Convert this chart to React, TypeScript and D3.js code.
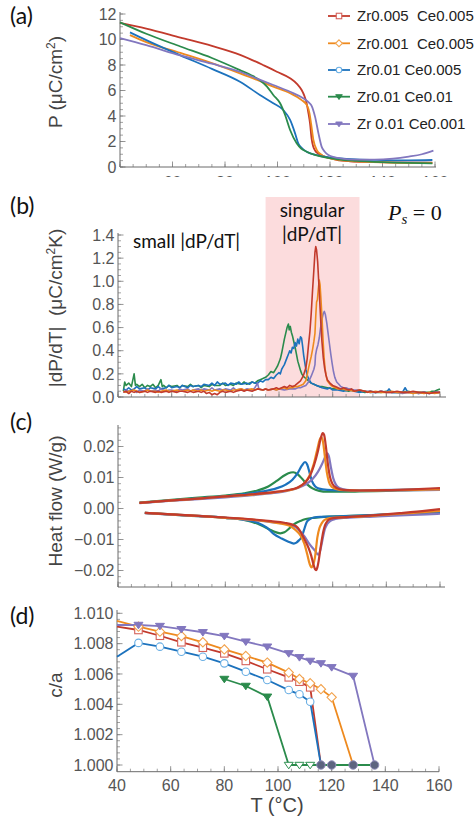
import React from "react";
import * as d3 from "d3";

type Pt = [number, number];

const seriesNames = ["Zr0.005  Ce0.005", "Zr0.001  Ce0.005", "Zr0.01 Ce0.005", "Zr0.01 Ce0.01", "Zr 0.01 Ce0.001"];
const colors = ["#C23A2C", "#EE8A1F", "#1C72BD", "#2B8B4C", "#8277BF"];
const markerStrokes = ["#D4625A", "#F2A24C", "#6AAFE4", "#2F8F50", "#6C64B4"];
const markerShapes = ["square", "diamond", "circle", "tri", "tri"];
const markerFilled = [false, false, false, true, true];

// ---------- (a) Polarization P (µC/cm²) vs T ----------
const aRed: Pt[] = [[40,11.3],[50,10.85],[63,10.15],[75,9.5],[86,8.78],[95,7.95],[100,7.45],[104.8,6.96],[107.5,6.5],[109.2,6.04],[110.2,5.6],[111.1,5.0],[111.8,4.2],[112.4,3.4],[113,2.2],[113.6,1.6],[114.3,1.3],[115.5,1.05],[116.8,0.92],[119,0.75],[122.5,0.56],[127.6,0.45],[135,0.4],[145,0.36],[159,0.35]];
const aOrange: Pt[] = [[43.8,10.35],[50,9.8],[63,8.95],[75,8.15],[85.7,7.35],[92,6.85],[98.4,6.3],[104.8,5.78],[109.2,5.25],[111.2,4.85],[112.2,4.2],[112.8,3.4],[113.7,2.1],[115,1.33],[116.5,1.0],[118,0.8],[123.8,0.55],[130,0.45],[140,0.36],[150,0.31],[159,0.3]];
const aBlue: Pt[] = [[43.8,10.56],[50,9.95],[63,8.76],[75,7.7],[85.7,6.69],[93.3,5.65],[98.4,5.0],[102.2,4.47],[104.8,3.69],[106.7,2.64],[107.9,1.86],[109.5,1.45],[111.1,1.2],[116,0.88],[123,0.7],[130,0.6],[140,0.55],[150,0.52],[159,0.55]];
const aGreen: Pt[] = [[40,11.35],[50,10.45],[63,9.45],[75,8.55],[85.7,7.6],[90,7.2],[93.3,6.8],[96,6.3],[98.4,5.65],[101,5.0],[102.9,4.08],[104.8,2.9],[107.3,1.86],[109,1.45],[111.1,1.2],[116,0.85],[123,0.6],[130,0.48],[140,0.38],[150,0.32],[159,0.29]];
const aPurple: Pt[] = [[40,10.1],[50,9.55],[63,8.75],[75,8.1],[85.7,7.47],[92,6.95],[98.4,6.43],[104.8,5.9],[109.8,5.39],[112,5.05],[113,4.8],[114.3,3.95],[115.6,2.64],[116.8,1.6],[118,1.2],[119.4,0.94],[123.8,0.68],[130,0.58],[137,0.58],[144,0.66],[150,0.82],[155,1.0],[159.4,1.28]];
const aSeries = [aRed, aOrange, aBlue, aGreen, aPurple];
const aYTicks = [0, 2, 4, 6, 8, 10, 12];
const xTicks = [40, 60, 80, 100, 120, 140, 160];

// ---------- (b) |dP/dT| ----------
const bRed: Pt[] = [[42,0.04],[43,0.05],[44,0.03],[45,0.05],[46,0.04],[47,0.05],[48,0.04],[50,0.05],[51,0.04],[52,0.05],[54,0.04],[55,0.05],[56,0.04],[58,0.05],[59,0.04],[60,0.05],[62,0.04],[63,0.05],[64,0.05],[66,0.04],[67,0.05],[68,0.04],[70,0.05],[71,0.04],[72,0.05],[73,0.03],[74,0.04],[75,0.02],[76,0.03],[77,0.02],[78,0.04],[79,0.05],[80,0.04],[82,0.05],[83,0.04],[84,0.05],[86,0.06],[87,0.05],[88,0.06],[90,0.05],[91,0.06],[92,0.07],[94,0.06],[95,0.07],[96,0.06],[98,0.07],[99,0.08],[100,0.07],[101,0.08],[102,0.09],[103,0.08],[104,0.1],[105,0.09],[106,0.1],[107,0.12],[108,0.14],[109,0.18],[110,0.25],[110.5,0.33],[111,0.45],[111.5,0.56],[112,0.72],[112.5,0.92],[113,1.1],[113.4,1.25],[113.7,1.3],[114,1.27],[114.4,1.17],[114.8,1.0],[115.2,0.82],[115.6,0.64],[116,0.48],[116.5,0.34],[117,0.25],[117.5,0.19],[118,0.15],[119,0.12],[120,0.1],[121,0.09],[122,0.08],[123,0.07],[124,0.08],[126,0.06],[127,0.07],[128,0.05],[130,0.06],[132,0.05],[133,0.04],[134,0.05],[136,0.04],[138,0.05],[140,0.04],[142,0.04],[144,0.05],[146,0.04],[148,0.04],[150,0.05],[152,0.04],[154,0.04],[156,0.03],[158,0.04],[160,0.04]];
const bOrange: Pt[] = [[42,0.05],[43,0.04],[44,0.05],[46,0.06],[47,0.05],[48,0.04],[50,0.05],[51,0.06],[52,0.05],[54,0.05],[55,0.04],[56,0.05],[58,0.06],[59,0.05],[60,0.05],[62,0.06],[63,0.05],[64,0.05],[66,0.06],[67,0.05],[68,0.06],[70,0.05],[71,0.06],[72,0.05],[74,0.06],[75,0.05],[76,0.06],[78,0.05],[79,0.06],[80,0.06],[82,0.05],[83,0.06],[84,0.06],[86,0.07],[87,0.06],[88,0.06],[90,0.07],[91,0.06],[92,0.07],[94,0.06],[95,0.07],[96,0.06],[98,0.07],[99,0.06],[100,0.07],[102,0.08],[103,0.07],[104,0.08],[105,0.08],[106,0.09],[107,0.09],[108,0.1],[109,0.11],[110,0.14],[110.5,0.19],[111,0.25],[111.5,0.3],[112,0.35],[112.5,0.41],[113,0.48],[113.4,0.55],[113.7,0.7],[114,0.82],[114.3,0.84],[114.6,0.92],[115,1.01],[115.3,0.97],[115.6,0.86],[116,0.7],[116.4,0.5],[116.8,0.34],[117.2,0.24],[117.6,0.18],[118,0.14],[119,0.11],[120,0.09],[121,0.08],[122,0.07],[124,0.07],[125,0.06],[126,0.06],[128,0.05],[130,0.06],[132,0.05],[134,0.04],[136,0.05],[138,0.04],[140,0.04],[142,0.05],[144,0.04],[146,0.04],[148,0.04],[150,0.03],[152,0.04],[154,0.03],[156,0.04],[158,0.03],[160,0.04]];
const bBlue: Pt[] = [[42,0.07],[43,0.06],[44,0.08],[45,0.06],[46,0.07],[47,0.09],[48,0.07],[50,0.08],[51,0.06],[52,0.08],[54,0.07],[55,0.09],[56,0.07],[58,0.08],[59,0.1],[60,0.08],[62,0.09],[63,0.08],[64,0.1],[66,0.08],[67,0.1],[68,0.09],[70,0.1],[71,0.09],[72,0.11],[74,0.1],[75,0.12],[76,0.1],[77,0.13],[78,0.11],[80,0.12],[81,0.1],[82,0.12],[84,0.11],[85,0.13],[86,0.11],[88,0.12],[89,0.11],[90,0.13],[91,0.12],[92,0.12],[93,0.14],[94,0.13],[95,0.15],[96,0.15],[97,0.17],[98,0.16],[99,0.19],[100,0.21],[100.5,0.2],[101,0.24],[101.5,0.26],[102,0.28],[102.5,0.31],[103,0.34],[103.5,0.37],[104,0.4],[104.5,0.38],[105,0.43],[105.5,0.42],[106,0.47],[106.5,0.44],[107,0.5],[107.5,0.46],[108,0.52],[108.4,0.51],[108.8,0.44],[109.2,0.36],[109.6,0.3],[110,0.24],[110.5,0.19],[111,0.16],[111.5,0.14],[112,0.12],[113,0.11],[114,0.1],[115,0.09],[116,0.08],[118,0.07],[119,0.08],[120,0.06],[122,0.06],[124,0.05],[126,0.06],[128,0.05],[130,0.04],[132,0.05],[134,0.04],[136,0.04],[138,0.05],[140,0.04],[141,0.07],[142,0.04],[144,0.04],[146,0.04],[147,0.08],[148,0.04],[150,0.04],[152,0.03],[154,0.04],[156,0.03],[158,0.04],[160,0.04]];
const bGreen: Pt[] = [[42,0.05],[42.5,0.13],[43,0.1],[44,0.12],[45,0.09],[46,0.2],[46.5,0.1],[47,0.11],[48,0.09],[49,0.11],[50,0.08],[51,0.1],[52,0.09],[53,0.11],[54,0.08],[55,0.1],[56,0.15],[56.5,0.09],[57,0.1],[58,0.08],[59,0.1],[60,0.09],[62,0.1],[63,0.08],[64,0.1],[66,0.09],[67,0.11],[68,0.09],[70,0.1],[71,0.08],[72,0.1],[74,0.09],[75,0.11],[76,0.1],[78,0.1],[79,0.12],[80,0.1],[82,0.11],[83,0.1],[84,0.12],[86,0.11],[87,0.13],[88,0.11],[90,0.13],[91,0.12],[92,0.14],[93,0.15],[94,0.16],[95,0.17],[96,0.19],[97,0.22],[98,0.21],[99,0.25],[99.5,0.27],[100,0.3],[100.5,0.33],[101,0.38],[101.5,0.44],[102,0.5],[102.5,0.55],[103,0.6],[103.5,0.63],[103.8,0.58],[104.2,0.61],[104.6,0.56],[105,0.53],[105.5,0.48],[106,0.43],[106.5,0.37],[107,0.31],[107.5,0.27],[108,0.23],[108.5,0.2],[109,0.18],[110,0.16],[111,0.14],[112,0.12],[113,0.11],[114,0.1],[115,0.09],[116,0.09],[118,0.08],[120,0.07],[122,0.07],[124,0.06],[126,0.05],[127,0.06],[128,0.05],[130,0.05],[132,0.04],[134,0.05],[136,0.04],[138,0.04],[140,0.05],[142,0.04],[144,0.04],[146,0.04],[148,0.05],[150,0.04],[152,0.04],[154,0.04],[156,0.04],[157,0.05],[158,0.05],[159,0.06],[160,0.07]];
const bPurple: Pt[] = [[42,0.04],[43,0.06],[44,0.05],[46,0.06],[47,0.04],[48,0.06],[50,0.05],[51,0.07],[52,0.05],[54,0.06],[55,0.05],[56,0.07],[58,0.05],[59,0.06],[60,0.06],[62,0.05],[63,0.07],[64,0.06],[66,0.07],[67,0.05],[68,0.06],[70,0.07],[71,0.06],[72,0.07],[74,0.06],[75,0.08],[76,0.06],[78,0.07],[79,0.06],[80,0.07],[82,0.06],[83,0.08],[84,0.06],[86,0.07],[87,0.06],[88,0.07],[90,0.06],[91,0.08],[92,0.12],[92.5,0.07],[94,0.06],[95,0.07],[96,0.06],[98,0.07],[99,0.06],[100,0.07],[102,0.06],[104,0.07],[106,0.07],[107,0.08],[108,0.08],[109,0.09],[110,0.1],[111,0.13],[112,0.18],[112.5,0.21],[113,0.24],[113.4,0.28],[113.6,0.36],[114,0.41],[114.5,0.45],[115,0.51],[115.5,0.6],[116,0.67],[116.5,0.72],[116.9,0.74],[117.3,0.71],[117.8,0.64],[118.3,0.55],[118.8,0.46],[119.3,0.37],[119.8,0.29],[120.3,0.22],[120.8,0.17],[121.5,0.13],[122.3,0.11],[123,0.09],[124,0.08],[125,0.08],[126,0.07],[128,0.06],[130,0.06],[132,0.05],[134,0.05],[136,0.04],[138,0.05],[140,0.04],[142,0.04],[144,0.04],[146,0.03],[148,0.04],[150,0.04],[152,0.03],[154,0.04],[156,0.03],[158,0.04],[160,0.04]];
const bSeries = [bRed, bOrange, bBlue, bGreen, bPurple];
const bYTicks = [0, 0.2, 0.4, 0.6, 0.8, 1.0, 1.2, 1.4];
const singularRange = [95, 130];

// ---------- (c) Heat flow (W/g): heating (up) and cooling (down) ----------
const cRedUp: Pt[] = [[48,0.0018],[60,0.0026],[70,0.0032],[80,0.0039],[90,0.0046],[98,0.0053],[103,0.0059],[107,0.0068],[109.5,0.0082],[111.5,0.0105],[113,0.0138],[114.5,0.0185],[115.6,0.0228],[116.3,0.0243],[116.8,0.0238],[117.4,0.0205],[118.2,0.0145],[119,0.0102],[120,0.0078],[121.5,0.0066],[124,0.006],[130,0.0058],[140,0.0059],[150,0.0062],[160,0.0066]];
const cOrangeUp: Pt[] = [[48,0.0018],[60,0.0026],[70,0.0032],[80,0.0039],[90,0.0045],[98,0.0052],[103,0.0058],[107,0.0067],[109.5,0.0082],[111.5,0.0108],[113,0.0145],[114.3,0.0192],[115.2,0.0223],[115.8,0.023],[116.4,0.0215],[117,0.0175],[117.8,0.0118],[118.6,0.0086],[119.6,0.007],[121.5,0.0062],[124,0.0059],[130,0.0058],[140,0.0059],[150,0.006],[160,0.0062]];
const cBlueUp: Pt[] = [[48,0.0018],[60,0.0026],[70,0.0033],[80,0.004],[88,0.0047],[94,0.0055],[99,0.0065],[102.5,0.0077],[105,0.0093],[107,0.0115],[108.5,0.0138],[109.7,0.015],[110.5,0.0142],[111.4,0.0115],[112.3,0.0088],[113.5,0.0071],[115,0.0064],[118,0.006],[125,0.0058],[135,0.0059],[145,0.006],[160,0.0063]];
const cGreenUp: Pt[] = [[48,0.0019],[60,0.0028],[70,0.0035],[80,0.0042],[87,0.0049],[92,0.0058],[96,0.0071],[99,0.0088],[101.5,0.0104],[103.5,0.0114],[105.3,0.0117],[107,0.011],[108.7,0.0095],[110.5,0.0078],[112.5,0.0065],[115,0.0057],[118,0.0054],[122,0.0054],[130,0.0055],[140,0.0057],[150,0.0059],[160,0.0061]];
const cPurpleUp: Pt[] = [[48,0.0017],[60,0.0025],[70,0.003],[80,0.0036],[90,0.0043],[98,0.005],[103,0.0057],[107,0.0066],[110,0.0078],[112.5,0.0095],[114.5,0.0118],[116,0.0143],[117.3,0.0168],[118,0.0178],[118.6,0.0168],[119.3,0.0135],[120.2,0.0098],[121.2,0.0077],[122.5,0.0066],[125,0.006],[130,0.0058],[140,0.0058],[150,0.0059],[160,0.006]];
const cRedDown: Pt[] = [[50,-0.0014],[60,-0.0019],[70,-0.0024],[80,-0.0029],[90,-0.0035],[97,-0.0041],[102,-0.0046],[105,-0.0052],[107,-0.0062],[108.5,-0.0082],[110,-0.0108],[111,-0.0127],[112,-0.0152],[112.8,-0.0179],[113.4,-0.0195],[113.8,-0.0199],[114.3,-0.019],[114.8,-0.0168],[115.4,-0.0132],[115.9,-0.0104],[116.5,-0.0075],[117.1,-0.0055],[118,-0.0041],[119,-0.0034],[121,-0.003],[125,-0.0028],[135,-0.0022],[145,-0.0015],[155,-0.0007],[160,-0.0002]];
const cOrangeDown: Pt[] = [[50,-0.0014],[60,-0.0019],[70,-0.0024],[80,-0.003],[90,-0.0036],[97,-0.0043],[101,-0.0049],[104,-0.0056],[106,-0.0068],[108,-0.0087],[109.5,-0.0115],[110.5,-0.0147],[111.4,-0.0178],[112.1,-0.019],[112.7,-0.0182],[113.4,-0.0158],[114.3,-0.0093],[115.1,-0.0062],[115.9,-0.0048],[117,-0.0037],[119,-0.0031],[122,-0.0029],[130,-0.0026],[140,-0.002],[150,-0.0014],[160,-0.0008]];
const cBlueDown: Pt[] = [[50,-0.0014],[60,-0.0019],[70,-0.0024],[80,-0.003],[87,-0.0036],[92,-0.0046],[95.5,-0.0062],[98,-0.0082],[101,-0.0097],[103.5,-0.0107],[105.5,-0.0113],[106.5,-0.011],[107.5,-0.0102],[108.4,-0.0093],[109.3,-0.007],[110.3,-0.0044],[111.5,-0.0034],[113,-0.0029],[116,-0.0027],[120,-0.0026],[130,-0.0023],[140,-0.0019],[150,-0.0015],[160,-0.0011]];
const cGreenDown: Pt[] = [[50,-0.0014],[60,-0.002],[70,-0.0025],[80,-0.003],[86,-0.0035],[90,-0.0043],[93.5,-0.0055],[96.5,-0.0068],[99,-0.0077],[100.5,-0.008],[102,-0.0077],[103.5,-0.0067],[105,-0.0055],[106.5,-0.0046],[108,-0.004],[110,-0.0034],[113,-0.003],[117,-0.0027],[122,-0.0025],[130,-0.0023],[140,-0.002],[150,-0.0016],[160,-0.0012]];
const cPurpleDown: Pt[] = [[50,-0.0015],[60,-0.002],[70,-0.0025],[80,-0.003],[90,-0.0037],[97,-0.0044],[104,-0.0052],[106.5,-0.0062],[108,-0.0075],[109.5,-0.009],[110.9,-0.0109],[112.3,-0.0125],[113.4,-0.0136],[114.6,-0.0149],[115.3,-0.0138],[115.9,-0.0114],[116.5,-0.0088],[117.1,-0.0066],[118,-0.005],[119,-0.0041],[121,-0.0034],[125,-0.003],[135,-0.0026],[145,-0.0022],[155,-0.0019],[160,-0.0017]];
const cUp = [cRedUp, cOrangeUp, cBlueUp, cGreenUp, cPurpleUp];
const cDown = [cRedDown, cOrangeDown, cBlueDown, cGreenDown, cPurpleDown];
const cYTicks = [-0.02, -0.01, 0, 0.01, 0.02];

// ---------- (d) c/a ----------
const dRed: Pt[] = [[40,1.00912],[48,1.0089],[56,1.00852],[64,1.00809],[72,1.00773],[80,1.00736],[88,1.00686],[96,1.00631],[104,1.00578],[108,1.00549],[112,1.00512],[116,1.0]];
const dOrange: Pt[] = [[40,1.0095],[48,1.00912],[56,1.00879],[64,1.0085],[72,1.00809],[80,1.00762],[88,1.00719],[96,1.00675],[104,1.00609],[108,1.00567],[112,1.00539],[116,1.005],[120,1.00446],[128,1.0]];
const dBlue: Pt[] = [[40,1.00714],[48,1.00805],[56,1.0078],[64,1.00747],[72,1.00714],[80,1.0067],[88,1.00615],[96,1.0056],[104,1.00494],[108,1.00466],[112,1.00417],[116,1.0]];
const dGreen: Pt[] = [[80,1.00567],[88,1.00521],[96,1.0045],[104,1.0],[108,1.0],[112,1.0],[116,1.0],[120,1.0],[128,1.0],[136,1.0]];
const dPurple: Pt[] = [[40,1.00923],[48,1.00923],[56,1.00916],[64,1.00895],[72,1.00875],[80,1.0085],[88,1.00813],[96,1.0078],[104,1.00736],[108,1.0071],[112,1.00686],[116,1.0067],[120,1.00644],[128,1.00587],[136,1.0]];
const dSeries = [dRed, dOrange, dBlue, dGreen, dPurple];
const cubicT = [116, 120, 128, 136];
const dYTicks = [1.0, 1.002, 1.004, 1.006, 1.008, 1.01];

const AXIS = "#6b6b6b";
const TICK = "#8a8a8a";
const LABEL = "#555";
const TICKFONT = "Liberation Sans, Arial, sans-serif";
const TEXTFONT = "Lato, 'Open Sans', sans-serif";

function minors(a: number, b: number, step: number) {
  return d3.range(Math.round(a / step), Math.round(b / step) + 1).map((k) => k * step);
}

function Axes(p: {
  x: d3.ScaleLinear<number, number>;
  y: d3.ScaleLinear<number, number>;
  x0: number; x1: number; xAxisY: number; yTop: number;
  xMajor: number[]; xMinorStep: number; xMinMax: [number, number];
  yMajor: number[]; yMinorStep: number; yMinMax: [number, number];
  yFmt: (v: number) => string;
  xLabels?: boolean; xLabelY?: number; clipId?: string;
}) {
  const { x, y, x0, x1, xAxisY, yTop } = p;
  const xm = minors(p.xMinMax[0], p.xMinMax[1], p.xMinorStep).filter((t) => x(t) >= x0 - 0.5 && x(t) <= x1 + 0.5);
  const ym = minors(p.yMinMax[0], p.yMinMax[1], p.yMinorStep).filter((t) => y(t) >= yTop - 0.5 && y(t) <= xAxisY + 0.5);
  return (
    <g>
      {xm.map((t, i) => (
        <line key={"xm" + i} x1={x(t)} x2={x(t)} y1={xAxisY} y2={xAxisY - 3} stroke={TICK} strokeWidth={0.8} />
      ))}
      {p.xMajor.map((t, i) => (
        <line key={"xM" + i} x1={x(t)} x2={x(t)} y1={xAxisY} y2={xAxisY - 5.5} stroke={TICK} strokeWidth={0.9} />
      ))}
      {ym.map((t, i) => (
        <line key={"ym" + i} x1={x0} x2={x0 + 3} y1={y(t)} y2={y(t)} stroke={TICK} strokeWidth={0.8} />
      ))}
      {p.yMajor.map((t, i) => (
        <line key={"yM" + i} x1={x0} x2={x0 + 5.5} y1={y(t)} y2={y(t)} stroke={TICK} strokeWidth={0.9} />
      ))}
      <line x1={x0} x2={x1} y1={xAxisY} y2={xAxisY} stroke={AXIS} strokeWidth={1} />
      <line x1={x0} x2={x0} y1={yTop} y2={xAxisY} stroke={AXIS} strokeWidth={1} />
      {p.yMajor.map((t, i) => (
        <text key={"yl" + i} x={x0 - 3.5} y={y(t)} dy="0.36em" textAnchor="end" fontSize={16} fill={LABEL} fontFamily={TICKFONT}>
          {p.yFmt(t)}
        </text>
      ))}
      {p.xLabels && (
        <g clipPath={p.clipId ? `url(#${p.clipId})` : undefined}>
          {p.xMajor.filter((t) => t > 40 || !p.clipId).map((t, i) => (
            <text key={"xl" + i} x={x(t)} y={p.xLabelY} textAnchor="middle" fontSize={16} fill={LABEL} fontFamily={TICKFONT}>
              {t}
            </text>
          ))}
        </g>
      )}
    </g>
  );
}

function Marker({ shape, filled, color, stroke, cx, cy, s }: { shape: string; filled: boolean; color: string; stroke: string; cx: number; cy: number; s: number }) {
  const fill = filled ? color : "white";
  const st = filled ? color : stroke;
  if (shape === "square")
    return <rect x={cx - s / 2} y={cy - s / 2} width={s} height={s} fill={fill} stroke={st} strokeWidth={1.1} />;
  if (shape === "diamond") {
    const r = s * 0.62;
    return <path d={`M${cx},${cy - r}L${cx + r},${cy}L${cx},${cy + r}L${cx - r},${cy}Z`} fill={fill} stroke={st} strokeWidth={1.1} />;
  }
  if (shape === "circle") return <circle cx={cx} cy={cy} r={s / 2} fill={fill} stroke={st} strokeWidth={1.1} />;
  const r = s * 0.6;
  return <path d={`M${cx - r},${cy - r * 0.6}L${cx + r},${cy - r * 0.6}L${cx},${cy + r * 0.85}Z`} fill={fill} stroke={st} strokeWidth={1} />;
}

export default function App() {
  // scales
  const xA = d3.scaleLinear().domain([40, 160]).range([120, 435]);
  const yA = d3.scaleLinear().domain([0, 12]).range([167, 14]);
  const xB = d3.scaleLinear().domain([40, 160]).range([118, 440]);
  const yB = d3.scaleLinear().domain([0, 1.4]).range([397, 235]);
  const xC = d3.scaleLinear().domain([40, 160]).range([118, 440]);
  const yC = d3.scaleLinear().domain([-0.02, 0.02]).range([570.5, 446.5]);
  const xD = d3.scaleLinear().domain([40, 160]).range([117, 439]);
  const yD = d3.scaleLinear().domain([1.0, 1.01]).range([765, 613.3]);

  const lineA = d3.line<Pt>().x((d) => xA(d[0])).y((d) => yA(d[1])).curve(d3.curveMonotoneX);
  const lineB = d3.line<Pt>().x((d) => xB(d[0])).y((d) => yB(d[1]));
  const lineC = d3.line<Pt>().x((d) => xC(d[0])).y((d) => yC(d[1])).curve(d3.curveMonotoneX);
  const lineD = d3.line<Pt>().x((d) => xD(d[0])).y((d) => yD(d[1]));

  const legendY = [16, 43.3, 70, 96.7, 124];
  const bOrder = [3, 2, 4, 1, 0];
  const cOrder = [3, 2, 4, 1, 0];
  const dOrder = [0, 2, 1, 4, 3];

  return (
    <svg width={476} height={820} style={{ position: "absolute", left: 0, top: 0, background: "white" }}>
      <defs>
        <clipPath id="clipAx">
          <rect x={100} y={168} width={360} height={9} />
        </clipPath>
      </defs>
      <rect x={0} y={0} width={476} height={820} fill="white" />

      {/* ---------- panel (a) ---------- */}
      <text x={10} y={24} fontSize={23} fontFamily={TEXTFONT} fill="#111">(a)</text>
      <Axes x={xA} y={yA} x0={120} x1={436} xAxisY={167} yTop={12}
        xMajor={xTicks} xMinorStep={5} xMinMax={[40, 160]}
        yMajor={aYTicks} yMinorStep={0.5} yMinMax={[0, 12]}
        yFmt={(v) => String(v)} xLabels xLabelY={188} clipId="clipAx" />
      {aSeries.map((s, i) => (
        <path key={"a" + i} d={lineA(s) || ""} fill="none" stroke={colors[i]} strokeWidth={1.8} />
      ))}
      <text transform="translate(62,82) rotate(-90)" textAnchor="middle" fontSize={19} fill="#444" fontFamily={TICKFONT}>
        P (μC/cm<tspan dy={-7} fontSize={12}>2</tspan><tspan dy={7}>)</tspan>
      </text>
      {seriesNames.map((n, i) => (
        <g key={"lg" + i}>
          <line x1={328} x2={350} y1={legendY[i]} y2={legendY[i]} stroke={colors[i]} strokeWidth={1.8} />
          <Marker shape={markerShapes[i]} filled={markerFilled[i]} color={colors[i]} stroke={markerStrokes[i]} cx={339} cy={legendY[i]} s={5.5} />
          <text x={357} y={legendY[i] + 5.3} fontSize={15} fill="#222" fontFamily={TICKFONT} style={{ whiteSpace: "pre" }}>{n}</text>
        </g>
      ))}

      {/* ---------- panel (b) ---------- */}
      <rect x={xB(singularRange[0])} y={197} width={xB(singularRange[1]) - xB(singularRange[0])} height={397 - 197} fill="#FCDCDD" />
      <text x={10} y={214} fontSize={23} fontFamily={TEXTFONT} fill="#111">(b)</text>
      <Axes x={xB} y={yB} x0={118} x1={446} xAxisY={397} yTop={233}
        xMajor={xTicks} xMinorStep={5} xMinMax={[40, 160]}
        yMajor={bYTicks} yMinorStep={0.05} yMinMax={[0, 1.4]}
        yFmt={(v) => v.toFixed(1)} />
      {bOrder.map((i) => (
        <path key={"b" + i} d={lineB(bSeries[i]) || ""} fill="none" stroke={colors[i]} strokeWidth={1.6} strokeLinejoin="round" />
      ))}
      <text x={133} y={248} fontSize={19} fontFamily={TEXTFONT} fill="#111">small |dP/dT|</text>
      <text x={312} y={217} fontSize={19} fontFamily={TEXTFONT} fill="#111" textAnchor="middle">singular</text>
      <text x={312} y={241} fontSize={19} fontFamily={TEXTFONT} fill="#111" textAnchor="middle">|dP/dT|</text>
      <text x={388} y={220} fontSize={22} fontFamily="'Liberation Serif', serif" fill="#111">
        <tspan fontStyle="italic">P</tspan>
        <tspan fontStyle="italic" fontSize={15} dy={4}>s</tspan>
        <tspan dy={-4}> = 0</tspan>
      </text>
      <text transform="translate(62,308) rotate(-90)" textAnchor="middle" fontSize={19} fill="#444" fontFamily={TICKFONT} style={{ whiteSpace: "pre" }}>
        |dP/dT|  (μC/cm<tspan dy={-7} fontSize={12}>2</tspan><tspan dy={7}>K)</tspan>
      </text>

      {/* ---------- panel (c) ---------- */}
      <text x={10} y={430} fontSize={23} fontFamily={TEXTFONT} fill="#111">(c)</text>
      <Axes x={xC} y={yC} x0={118} x1={445} xAxisY={587} yTop={425}
        xMajor={xTicks} xMinorStep={5} xMinMax={[40, 160]}
        yMajor={cYTicks} yMinorStep={0.002} yMinMax={[-0.026, 0.026]}
        yFmt={(v) => (v === 0 ? "0.00" : (v < 0 ? "\u2212" : "") + Math.abs(v).toFixed(2))} />
      {cOrder.map((i) => (
        <g key={"c" + i}>
          <path d={lineC(cUp[i]) || ""} fill="none" stroke={colors[i]} strokeWidth={2.2} />
          <path d={lineC(cDown[i]) || ""} fill="none" stroke={colors[i]} strokeWidth={2.2} />
        </g>
      ))}
      <text transform="translate(62,501) rotate(-90)" textAnchor="middle" fontSize={19} fill="#444" fontFamily={TICKFONT}>
        Heat flow (W/g)
      </text>

      {/* ---------- panel (d) ---------- */}
      <text x={10} y={624} fontSize={23} fontFamily={TEXTFONT} fill="#111">(d)</text>
      <Axes x={xD} y={yD} x0={117} x1={439} xAxisY={771.7} yTop={610}
        xMajor={xTicks} xMinorStep={5} xMinMax={[40, 160]}
        yMajor={dYTicks} yMinorStep={0.0004} yMinMax={[1.0, 1.0102]}
        yFmt={(v) => v.toFixed(3)} xLabels xLabelY={791} />
      {dOrder.map((i) => (
        <path key={"dl" + i} d={lineD(dSeries[i]) || ""} fill="none" stroke={colors[i]} strokeWidth={1.8} />
      ))}
      {dOrder.map((i) => (
        <g key={"dm" + i}>
          {dSeries[i].filter((d) => d[0] > 40 && !(d[1] === 1.0 && cubicT.includes(d[0]))).map((d, j) => (
            <Marker key={j} shape={markerShapes[i]} filled={markerFilled[i] && d[1] > 1.0} color={colors[i]} stroke={markerStrokes[i]} cx={xD(d[0])} cy={yD(d[1])} s={7.5} />
          ))}
        </g>
      ))}
      {cubicT.map((t, j) => (
        <circle key={"cub" + j} cx={xD(t)} cy={yD(1.0)} r={4.2} fill="#5D6480" stroke="#8E8AB8" strokeWidth={1} />
      ))}
      <text transform="translate(62,685) rotate(-90)" textAnchor="middle" fontSize={19} fill="#444" fontFamily={TICKFONT}>
        c/a
      </text>
      <text x={277} y={812} textAnchor="middle" fontSize={20} fill="#444" fontFamily={TICKFONT}>
        T (°C)
      </text>
    </svg>
  );
}
